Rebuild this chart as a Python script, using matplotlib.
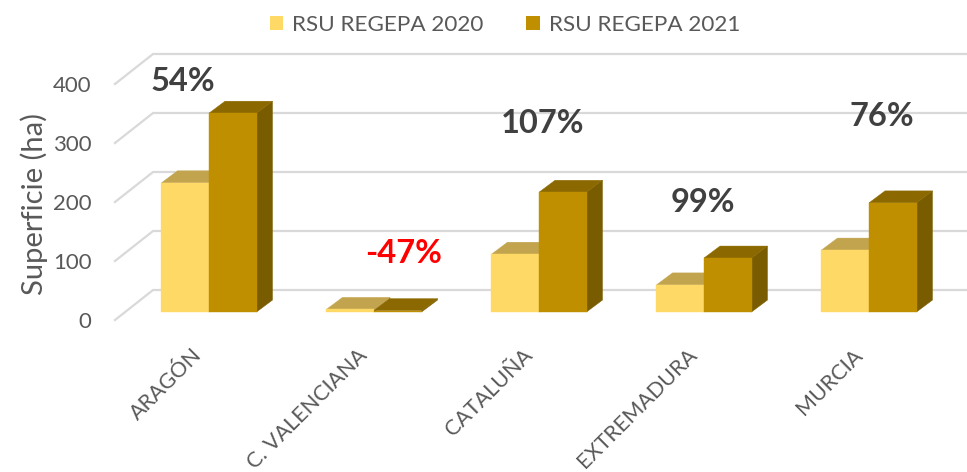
import matplotlib
matplotlib.use('Agg')
import matplotlib.pyplot as plt
from matplotlib.patches import Polygon, Patch
from matplotlib.transforms import ScaledTranslation

# ---------------- data ----------------
categories = ['ARAGÓN', 'C. VALENCIANA', 'CATALUÑA', 'EXTREMADURA', 'MURCIA']
series_names = ['RSU REGEPA 2020', 'RSU REGEPA 2021']
values_2020 = [219, 4.5, 98, 46, 105]
values_2021 = [337, 2.4, 203, 91.5, 185]
y_ticks = [0, 100, 200, 300, 400]
y_title = 'Superficie (ha)'

# ---------------- layout / style ----------------
plt.rcParams['font.family'] = ['Lato', 'DejaVu Sans']
W, H, DPI = 967, 472, 100
TXT = '#595959'
GRID = '#D9D9D9'
front_cols = ['#FFD966', '#BF8F00']
top_cols = ['#C2A44E', '#8C6900']
side_cols = ['#A88C3A', '#7A5C00']

bar_w = 0.288            # category units
depth_dx, depth_dy = 0.097, 20.3      # bar depth (x units, value units)
wall_x = -0.509                         # left wall at bar front plane
front_off = (-0.061, -13.6)             # floor front edge relative to bar plane
back_off = (0.170, 37.3)                # back wall relative to bar plane
xlim = (-0.5697, 4.594)
ylim = (-55.9, 528.8)
# percent label placement (offset from category centre, value height)
pct_dx = [-0.158, 0.182, 0.024, -0.006, 0.079]
pct_y = [390, 100, 319, 185, 332]

fig = plt.figure(figsize=(W / DPI, H / DPI), dpi=DPI)
ax = fig.add_axes([115 / W, 1 - 345 / H, (W - 115) / W, 345 / H])
ax.set_xlim(*xlim)
ax.set_ylim(*ylim)
for s in ax.spines.values():
    s.set_visible(False)

# gridlines: left wall diagonal + back wall horizontal
for t in y_ticks:
    x0, y0 = wall_x + front_off[0], t + front_off[1]
    x1, y1 = wall_x + back_off[0], t + back_off[1]
    ax.plot([x0, x1, xlim[1]], [y0, y1, y1], color=GRID, lw=1.6,
            zorder=1, clip_on=False, solid_joinstyle='miter')

# bars
series = [values_2020, values_2021]
for i in range(len(categories)):
    for s, vals in enumerate(series):
        v = vals[i]
        left = i - bar_w + s * bar_w
        right = left + bar_w
        z = 2 + s
        ax.bar(left, v, width=bar_w, align='edge', color=front_cols[s],
               edgecolor=front_cols[s], lw=0.3, zorder=z + 0.2)
        top = Polygon([(left, v), (right, v), (right + depth_dx, v + depth_dy),
                       (left + depth_dx, v + depth_dy)], closed=True,
                      facecolor=top_cols[s], edgecolor=top_cols[s], lw=0.3, zorder=z)
        side = Polygon([(right, 0), (right, v), (right + depth_dx, v + depth_dy),
                        (right + depth_dx, depth_dy)], closed=True,
                       facecolor=side_cols[s], edgecolor=side_cols[s], lw=0.3, zorder=z)
        ax.add_patch(side)
        ax.add_patch(top)

# percentage labels
for i in range(len(categories)):
    pct = round((values_2021[i] / values_2020[i] - 1) * 100)
    col = '#FF0000' if pct < 0 else '#404040'
    ax.text(i + pct_dx[i], pct_y[i], f'{pct}%', ha='center', va='center',
            fontsize=23.5, fontweight='bold', color=col, zorder=10)

# axes ticks
ax.set_yticks([t + front_off[1] for t in y_ticks])
ax.set_yticklabels([str(t) for t in y_ticks], fontsize=16, color=TXT)
ax.tick_params(axis='y', length=0, pad=17)
ax.set_xticks(range(len(categories)))
ax.set_xticklabels(categories, rotation=45, ha='right', rotation_mode='anchor',
                   fontsize=15.5, color=TXT)
ax.tick_params(axis='x', length=0, pad=0)
shift = ScaledTranslation(-17 / DPI, 0, fig.dpi_scale_trans)
for lab in ax.get_xticklabels():
    lab.set_transform(lab.get_transform() + shift)
ax.set_ylabel(y_title, fontsize=21, color=TXT)
ax.yaxis.set_label_coords((48 - 115) / (W - 115), (345 - 204) / 345)

handles = [Patch(facecolor=front_cols[k], edgecolor='none', label=series_names[k])
           for k in range(2)]
leg = fig.legend(handles=handles, loc='center', bbox_to_anchor=(505 / W, 1 - 25 / H),
                 ncol=2, frameon=False, fontsize=16.2, handlelength=0.6,
                 handleheight=0.6, handletextpad=0.4, columnspacing=1.9,
                 labelcolor=TXT)

fig.savefig('out.png', dpi=DPI)
